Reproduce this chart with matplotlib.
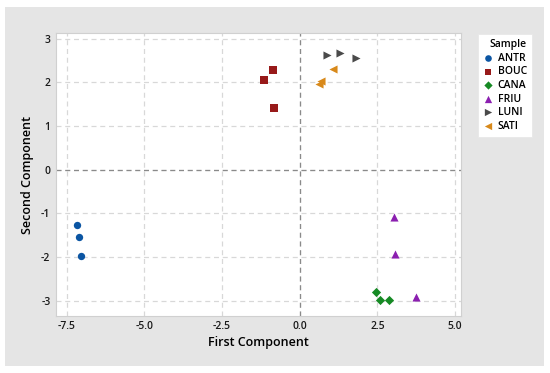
import matplotlib
matplotlib.use("Agg")
import matplotlib.pyplot as plt
from matplotlib.patches import Rectangle

plt.rcParams['font.family'] = ['Open Sans', 'DejaVu Sans']

samples = ["ANTR", "BOUC", "CANA", "FRIU", "LUNI", "SATI"]
antr_x = [-7.18, -7.10, -7.02]
antr_y = [-1.27, -1.53, -1.98]
bouc_x = [-1.14, -0.87, -0.84]
bouc_y = [2.06, 2.27, 1.42]
cana_x = [2.47, 2.60, 2.87]
cana_y = [-2.79, -2.98, -2.98]
friu_x = [3.02, 3.06, 3.75]
friu_y = [-1.09, -1.93, -2.91]
luni_x = [0.88, 1.30, 1.82]
luni_y = [2.63, 2.66, 2.56]
sati_x = [0.62, 0.68, 1.08]
sati_y = [1.96, 2.02, 2.30]

xs = [antr_x, bouc_x, cana_x, friu_x, luni_x, sati_x]
ys = [antr_y, bouc_y, cana_y, friu_y, luni_y, sati_y]
colors = ["#0b55a3", "#981a1a", "#168a24", "#8b1fb0", "#4a4a4a", "#d8891a"]
markers = ["o", "s", "D", "^", ">", "<"]
sizes = [28, 28, 22, 34, 34, 34]

xticks = [-7.5, -5.0, -2.5, 0.0, 2.5, 5.0]
yticks = [-3, -2, -1, 0, 1, 2, 3]

fig = plt.figure(figsize=(5.5, 3.73), dpi=100, facecolor="white")
bg = Rectangle((5/550, 1 - 366/373), 539/550, 359/373,
               transform=fig.transFigure, facecolor="#e5e5e5",
               edgecolor="none", zorder=-10)
fig.add_artist(bg)
ax = fig.add_axes([56/550, 1 - 315.7/373, 405/550, 282.4/373])
ax.set_zorder(1)
ax.set_facecolor("white")

for s, x, y, c, m, sz in zip(samples, xs, ys, colors, markers, sizes):
    ax.scatter(x, y, color=c, marker=m, s=sz, label=s, zorder=3, linewidths=0)

ax.set_xlim(-7.84, 5.19)
ax.set_ylim(-3.34, 3.12)
ax.set_xticks(xticks)
ax.set_xticklabels([f"{v:.1f}" for v in xticks])
ax.set_yticks(yticks)
ax.set_yticklabels([str(v) for v in yticks])
ax.grid(True, color="#d8d8d8", linestyle=(0, (4, 3)), linewidth=0.9, zorder=1)
ax.axhline(0, color="#8a8a8a", linestyle=(0, (4, 3)), linewidth=0.9, zorder=2)
ax.axvline(0, color="#8a8a8a", linestyle=(0, (4, 3)), linewidth=0.9, zorder=2)
for sp in ax.spines.values():
    sp.set_color("#d0d0d0")
    sp.set_linewidth(0.8)
ax.tick_params(axis="both", labelsize=7.5, length=0, pad=4, colors="#1a1a1a")
for lab in ax.get_xticklabels() + ax.get_yticklabels():
    lab.set_fontweight("semibold")
ax.set_xlabel("First Component", fontsize=9, labelpad=3, fontweight="semibold")
ax.set_ylabel("Second Component", fontsize=9, labelpad=5, fontweight="semibold")

leg = fig.legend(loc="upper left", bbox_to_anchor=(478/550, 1 - 34/373),
                 borderaxespad=0,
                 title="Sample", fontsize=7.5, title_fontsize=7.5,
                 frameon=True, fancybox=False, handletextpad=0.4,
                 borderpad=0.5, labelspacing=0.25, handlelength=1.0,
                 markerscale=0.9, prop={"size": 7.5, "weight": "semibold"})
leg.get_title().set_fontweight("semibold")
leg.set_zorder(2)
leg.get_frame().set_edgecolor("#e8e8e8")
leg.get_frame().set_facecolor("white")
leg.get_frame().set_alpha(1)
leg.get_frame().set_linewidth(0.6)
leg._legend_box.align = "right"

fig.savefig("out.png", dpi=100, facecolor="white")
